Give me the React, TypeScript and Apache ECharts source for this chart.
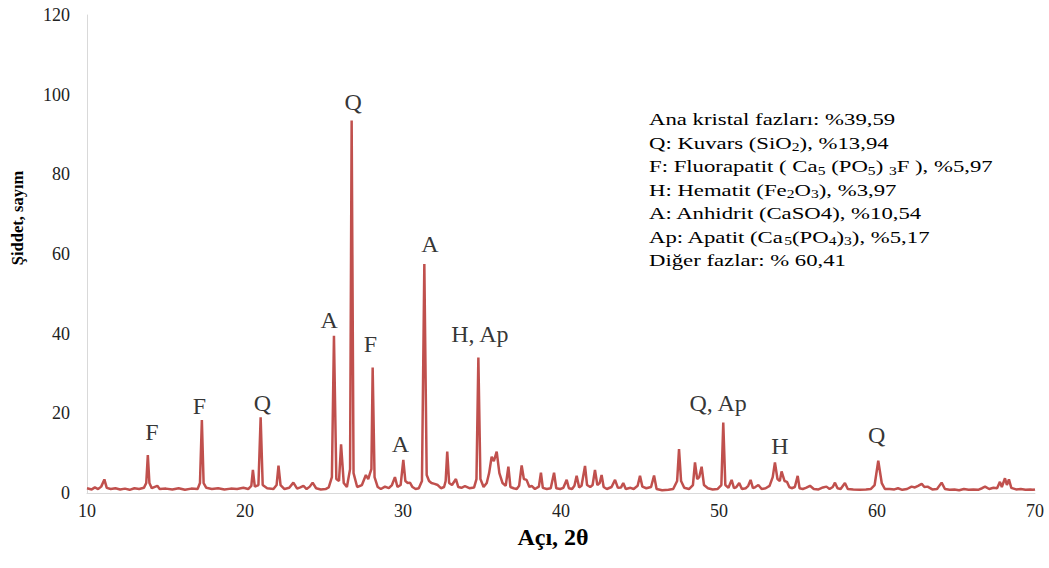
import React, { useEffect, useRef } from "react";
import * as echarts from "echarts";

// 2θ angle (degrees) and intensity (counts)
const twoTheta: number[] = [
  10.0, 10.3, 10.5, 10.7, 10.9, 11.1, 11.25, 11.5, 11.8, 12.1, 12.4, 12.7, 13.0, 13.3, 13.6, 13.75, 13.85, 13.95, 14.1, 14.45,
  14.6, 15.0, 15.4, 15.8, 16.2, 16.6, 17.0, 17.15, 17.27, 17.38, 17.55, 17.9, 18.3, 18.7, 19.1, 19.5, 19.9, 20.2, 20.4, 20.5,
  20.62, 20.85, 20.99, 21.12, 21.4, 21.8, 22.0, 22.12, 22.25, 22.5, 22.8, 23.06, 23.3, 23.5, 23.7, 23.9, 24.1, 24.28, 24.5, 24.8,
  25.1, 25.3, 25.5, 25.63, 25.78, 25.95, 26.08, 26.25, 26.45, 26.65, 26.75, 26.87, 27.1, 27.4, 27.65, 27.8, 27.9, 28.0, 28.08, 28.2,
  28.4, 28.6, 28.86, 29.1, 29.3, 29.49, 29.65, 29.85, 30.02, 30.15, 30.3, 30.44, 30.6, 30.8, 31.0, 31.2, 31.35, 31.5, 31.65, 31.8,
  32.0, 32.2, 32.4, 32.6, 32.7, 32.8, 32.92, 33.1, 33.35, 33.5, 33.7, 33.92, 34.2, 34.5, 34.65, 34.77, 34.9, 35.1, 35.3, 35.45,
  35.61, 35.75, 35.93, 36.1, 36.3, 36.5, 36.67, 36.8, 37.0, 37.2, 37.35, 37.51, 37.65, 37.82, 38.0, 38.14, 38.35, 38.6, 38.73, 38.85,
  39.1, 39.35, 39.56, 39.7, 39.95, 40.15, 40.36, 40.5, 40.7, 40.85, 40.99, 41.15, 41.3, 41.52, 41.65, 41.85, 42.0, 42.15, 42.3, 42.45,
  42.57, 42.7, 42.9, 43.2, 43.42, 43.6, 43.8, 43.94, 44.1, 44.4, 44.6, 44.85, 45.0, 45.15, 45.4, 45.7, 45.89, 46.05, 46.4, 46.8,
  47.1, 47.35, 47.47, 47.6, 47.8, 48.1, 48.35, 48.48, 48.62, 48.75, 48.9, 49.05, 49.3, 49.6, 49.9, 50.15, 50.27, 50.4, 50.6, 50.8,
  50.95, 51.1, 51.28, 51.45, 51.7, 51.85, 52.0, 52.15, 52.3, 52.49, 52.7, 52.95, 53.2, 53.4, 53.54, 53.7, 53.85, 53.96, 54.15, 54.3,
  54.45, 54.6, 54.8, 54.98, 55.1, 55.3, 55.5, 55.76, 56.0, 56.3, 56.58, 56.8, 57.0, 57.2, 57.34, 57.5, 57.7, 57.97, 58.15, 58.5,
  58.9, 59.3, 59.6, 59.85, 60.08, 60.3, 60.5, 60.8, 61.1, 61.33, 61.6, 61.9, 62.19, 62.4, 62.6, 62.83, 63.0, 63.2, 63.5, 63.8,
  64.09, 64.3, 64.6, 64.9, 65.2, 65.5, 65.8, 66.1, 66.4, 66.65, 66.84, 67.1, 67.37, 67.6, 67.78, 67.9, 68.1, 68.22, 68.35, 68.5,
  68.8, 69.1, 69.4, 69.7, 69.87, 70.0,
];

const counts: number[] = [
  1.2, 0.9, 1.4, 1.0, 1.6, 3.4, 1.3, 1.0, 1.2, 0.9, 1.1, 0.8, 1.2, 1.0, 1.3, 2.5, 9.5, 2.5, 1.2, 1.8,
  1.0, 1.1, 0.9, 1.2, 0.8, 1.1, 1.0, 2.5, 18.3, 2.5, 1.3, 1.0, 1.2, 0.9, 1.1, 1.0, 1.3, 1.0, 1.8, 5.8,
  1.6, 2.0, 19.0, 2.0, 1.2, 1.0, 2.0, 6.9, 2.0, 1.0, 1.3, 2.6, 1.1, 1.4, 1.8, 1.0, 1.6, 2.6, 1.2, 0.9,
  1.0, 1.4, 4.0, 39.5, 3.5, 3.0, 12.2, 2.5, 1.5, 6.0, 93.5, 5.0, 1.5, 2.0, 4.5, 3.5, 4.8, 6.0, 31.5, 4.0,
  1.5, 1.0, 1.6, 1.2, 2.0, 4.0, 1.5, 2.0, 8.3, 3.0, 2.5, 2.6, 1.5, 1.0, 1.2, 3.0, 57.5, 4.5, 3.0, 2.5,
  2.3, 2.0, 1.2, 1.5, 3.0, 10.4, 2.5, 2.0, 3.5, 1.5, 1.3, 1.7, 1.2, 1.4, 3.5, 34.0, 3.5, 1.5, 2.5, 5.0,
  9.1, 8.0, 10.4, 5.0, 2.5, 1.8, 6.6, 1.5, 1.2, 1.0, 1.8, 6.9, 3.5, 3.3, 1.5, 1.8, 1.0, 1.6, 5.1, 1.3,
  1.0, 1.2, 5.1, 1.2, 1.0, 1.3, 3.3, 1.2, 1.0, 1.8, 4.3, 1.4, 1.8, 6.8, 2.0, 1.5, 2.0, 5.8, 2.0, 2.5,
  4.5, 1.5, 1.0, 1.5, 3.3, 1.3, 1.4, 2.5, 1.0, 1.3, 1.0, 1.8, 4.3, 1.6, 1.2, 1.5, 4.4, 1.0, 0.7, 0.8,
  1.0, 3.0, 11.0, 3.0, 1.3, 1.0, 2.0, 7.7, 3.5, 4.0, 6.6, 2.0, 1.2, 0.9, 1.0, 2.0, 17.7, 2.0, 1.3, 3.3,
  1.2, 1.5, 2.5, 1.0, 1.2, 1.8, 3.3, 1.2, 1.5, 2.0, 1.0, 1.2, 1.8, 4.0, 7.7, 3.5, 3.0, 5.4, 3.0, 2.8,
  1.5, 1.2, 1.5, 4.3, 1.2, 1.0, 1.3, 1.8, 1.0, 0.9, 1.4, 1.6, 1.0, 1.5, 2.6, 1.2, 1.0, 2.5, 1.0, 0.9,
  0.8, 0.9, 1.0, 2.0, 8.1, 2.5, 1.0, 1.0, 0.9, 1.2, 0.8, 1.0, 1.6, 1.4, 1.8, 2.3, 1.5, 1.6, 0.9, 1.0,
  2.6, 1.0, 0.8, 0.9, 0.7, 1.0, 0.8, 0.9, 0.8, 1.2, 1.6, 1.0, 1.3, 1.2, 2.8, 1.5, 3.7, 2.0, 3.4, 1.3,
  0.9, 1.0, 0.8, 0.9, 0.8, 0.9,
];

// Phase annotations above peaks
const peakLabelText: string[] = ["F", "F", "Q", "A", "Q", "F", "A", "A", "H, Ap", "Q, Ap", "H", "Q"];
const peakLabelX: number[] = [14.11, 17.12, 21.1, 25.32, 26.84, 27.94, 29.84, 31.71, 34.87, 49.94, 53.86, 59.98];
const peakLabelY: number[] = [15.3, 21.9, 22.6, 43.4, 98.2, 37.3, 12.3, 62.4, 39.9, 22.6, 11.9, 14.5];

// Phase composition note
const phaseLines: string[] = [
  "Ana kristal fazları: %39,59",
  "Q: Kuvars (SiO{s|2}), %13,94",
  "F: Fluorapatit ( Ca{s|5} (PO{s|5}) {s|3}F ), %5,97",
  "H: Hematit (Fe{s|2}O{s|3}), %3,97",
  "A: Anhidrit (CaSO4), %10,54",
  "Ap: Apatit (Ca{s|5}(PO{s|4}){s|3}), %5,17",
  "Diğer fazlar: % 60,41",
];

const xTicks = { min: 10, max: 70, interval: 10 };
const yTicks = { min: 0, max: 120, interval: 20 };

const SERIF = "'Liberation Serif', 'Times New Roman', serif";

export default function App() {
  const ref = useRef<HTMLDivElement>(null);

  useEffect(() => {
    if (!ref.current) return;
    const chart = echarts.init(ref.current, undefined, { renderer: "svg" });

    const lineData = twoTheta.map((x, i) => [x, counts[i]]);
    const labelData = peakLabelText.map((t, i) => [peakLabelX[i], peakLabelY[i], t]);

    const legendGraphics: any[] = phaseLines.map((txt, i) => ({
      type: "text",
      left: 649,
      top: 108 + i * 23.5,
      scaleX: 1.3,
      style: {
        text: txt,
        fontFamily: SERIF,
        fontSize: 17.5,
        lineHeight: 22,
        fill: "#000",
        rich: {
          s: {
            fontFamily: SERIF,
            fontSize: 12,
            lineHeight: 22,
            verticalAlign: "bottom",
            fill: "#000",
          },
        },
      },
    }));

    legendGraphics.push({
      type: "text",
      x: 17,
      y: 218,
      rotation: Math.PI / 2,
      style: {
        text: "Şiddet, sayım",
        fontFamily: SERIF,
        fontWeight: "bold",
        fontSize: 16.5,
        fill: "#000",
        align: "center",
        verticalAlign: "middle",
      },
    });

    chart.setOption({
      animation: false,
      backgroundColor: "#fff",
      grid: { left: 87, right: 14, top: 15, bottom: 75, containLabel: false },
      xAxis: {
        type: "value",
        min: xTicks.min,
        max: xTicks.max,
        interval: xTicks.interval,
        name: "Açı, 2θ",
        nameLocation: "middle",
        nameGap: 30,
        nameTextStyle: {
          fontFamily: SERIF,
          fontWeight: "bold",
          fontSize: 24,
          color: "#000",
          padding: [0, 16, 0, 0],
        },
        axisLine: { show: true, onZero: false, lineStyle: { color: "#d9d9d9", width: 1 } },
        axisTick: { show: false },
        splitLine: { show: false },
        axisLabel: { fontFamily: SERIF, fontSize: 18, color: "#222", margin: 9 },
      },
      yAxis: {
        type: "value",
        min: yTicks.min,
        max: yTicks.max,
        interval: yTicks.interval,
        axisLine: { show: true, lineStyle: { color: "#d9d9d9", width: 1 } },
        axisTick: { show: false },
        splitLine: { show: false },
        axisLabel: { fontFamily: SERIF, fontSize: 18, color: "#222", margin: 17 },
      },
      series: [
        {
          type: "line",
          data: lineData,
          showSymbol: false,
          symbol: "none",
          lineStyle: { color: "#C0504D", width: 2.5 },
          z: 2,
        },
        {
          type: "scatter",
          data: labelData,
          symbolSize: 1,
          itemStyle: { color: "rgba(0,0,0,0)" },
          silent: true,
          label: {
            show: true,
            position: "inside",
            formatter: (p: any) => p.value[2],
            fontFamily: SERIF,
            fontSize: 24,
            color: "#000",
          },
          z: 3,
        },
      ],
      graphic: legendGraphics,
    });

    return () => chart.dispose();
  }, []);

  return (
    <div
      ref={ref}
      style={{ position: "fixed", left: 0, top: 0, width: 1049, height: 568, background: "#fff" }}
    />
  );
}
